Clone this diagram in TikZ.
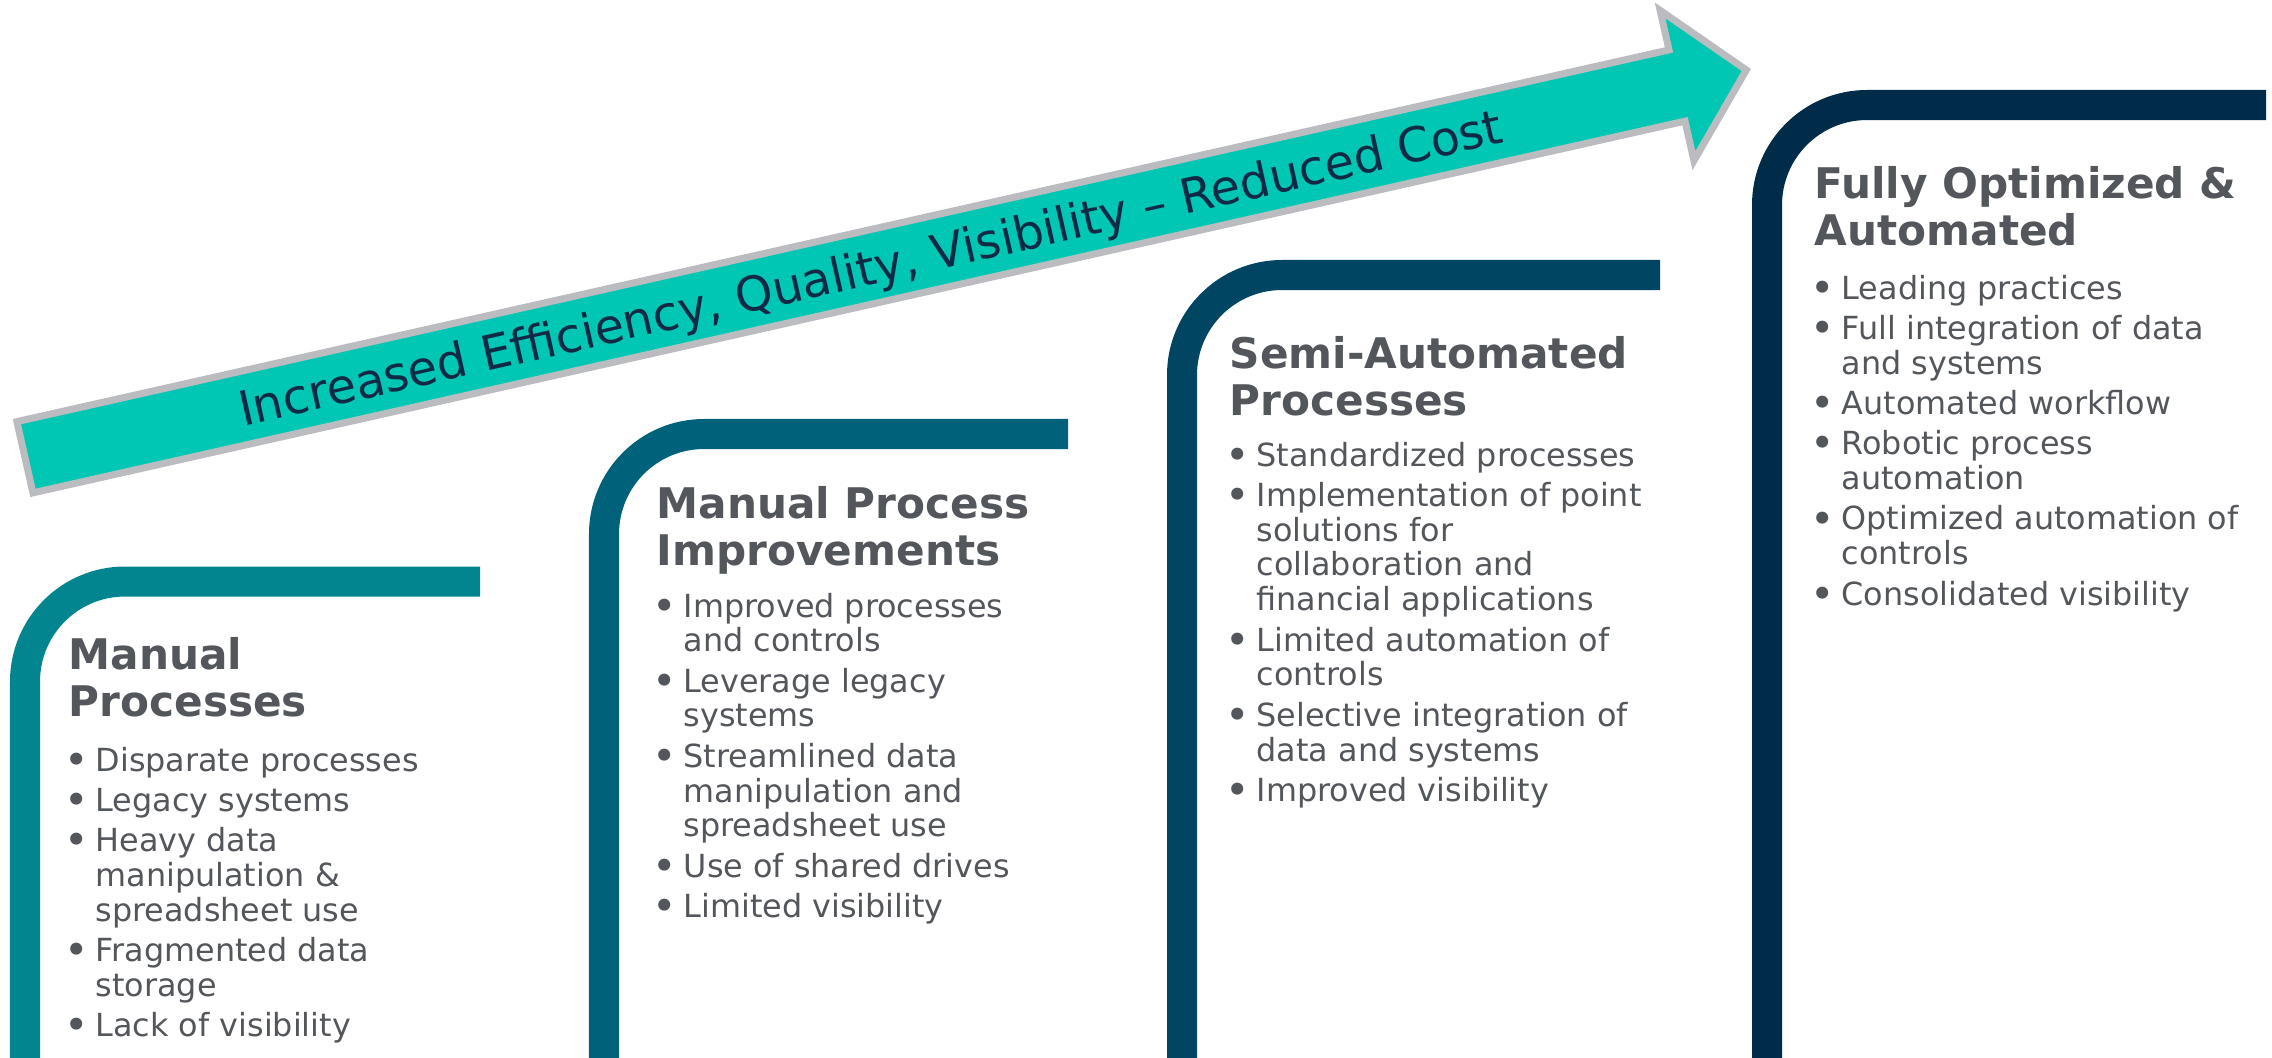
\documentclass[tikz,border=0pt]{standalone}
\usepackage{fontspec}
\setmainfont{DejaVu Sans}
\usepackage{tikz}

\definecolor{stageA}{HTML}{02858F}
\definecolor{stageB}{HTML}{00627A}
\definecolor{stageC}{HTML}{004562}
\definecolor{stageD}{HTML}{002B49}
\definecolor{trendfill}{HTML}{00C7B3}
\definecolor{trendline}{HTML}{BBBCBF}
\definecolor{headgray}{HTML}{53565A}
\definecolor{trendink}{HTML}{0F2A47}

\newcommand{\stagehead}[1]{\begin{minipage}[t]{5.2cm}\raggedright\fontsize{12pt}{13.4pt}\bfseries\selectfont #1\end{minipage}}
\newcommand{\stagelist}[1]{\begin{minipage}[t]{5.2cm}\raggedright\fontsize{9.05pt}{9.9pt}\selectfont\setlength{\parskip}{0.055cm}#1\end{minipage}}
\newcommand{\bitem}[1]{\par\hangindent=0.27cm\hangafter=1\noindent\makebox[0.27cm][l]{\hspace{-0.04cm}\raisebox{-0.9pt}{\scalebox{1.3}{\textbullet}}}#1}

\begin{document}
\begin{tikzpicture}[x=0.01cm, y=-0.01cm]
%% the canvas is in pixel units, y grows downwards
%% frames are thick lines with one rounded corner, cut by the page bottom
\tikzstyle{frame}=[line width=0.3cm, rounded corners=1cm]
\tikzstyle{head}=[anchor=base west, inner sep=0pt, text=headgray]
\tikzstyle{items}=[anchor=base west, inner sep=0pt, text=headgray]
\tikzstyle{trend}=[draw=trendline, fill=trendfill, line width=0.07cm, line join=miter]
\tikzstyle{trendlabel}=[anchor=base, inner sep=0pt, text=trendink, transform shape, font=\fontsize{13.6pt}{16pt}\selectfont]
\useasboundingbox (0,0) rectangle (2272,1057);
%% rising arrow
\begin{scope}[shift={(21.5,458)}, rotate=12.68]
\draw[trend] (3.5,-36.5) -- (1697,-36.5) -- (1697,-77) -- (1768,0) -- (1697,77) -- (1697,36.5) -- (3.5,36.5) -- cycle;
%% label along the arrow
\node[trendlabel] at (870,17.7) (trend) {Increased Efficiency, Quality, Visibility – Reduced Cost};
\end{scope}
%% stage frames
\draw[frame, draw=stageA] (25,1080) -- (25,581.5) -- (480,581.5);
\draw[frame, draw=stageB] (604,1080) -- (604,434) -- (1068,434);
\draw[frame, draw=stageC] (1182,1080) -- (1182,275) -- (1660,275);
\draw[frame, draw=stageD] (1767,1080) -- (1767,105) -- (2266,105);
%% stage 1
\node[head] at (68,669) (headA) {\stagehead{Manual\\Processes}};
\node[items] at (68,771) (listA) {\stagelist{%
\bitem{Disparate processes}%
\bitem{Legacy systems}%
\bitem{Heavy data\newline manipulation \&\newline spreadsheet use}%
\bitem{Fragmented data\newline storage}%
\bitem{Lack of visibility}}};
%% stage 2
\node[head] at (656,518) (headB) {\stagehead{Manual Process\\Improvements}};
\node[items] at (656,617) (listB) {\stagelist{%
\bitem{Improved processes\newline and controls}%
\bitem{Leverage legacy\newline systems}%
\bitem{Streamlined data\newline manipulation and\newline spreadsheet use}%
\bitem{Use of shared drives}%
\bitem{Limited visibility}}};
%% stage 3
\node[head] at (1229,368) (headC) {\stagehead{Semi-Automated\\Processes}};
\node[items] at (1229,466) (listC) {\stagelist{%
\bitem{Standardized processes}%
\bitem{Implementation of point\newline solutions for\newline collaboration and\newline financial applications}%
\bitem{Limited automation of\newline controls}%
\bitem{Selective integration of\newline data and systems}%
\bitem{Improved visibility}}};
%% stage 4
\node[head] at (1814,198) (headD) {\stagehead{Fully Optimized \&\\Automated}};
\node[items] at (1814,299) (listD) {\stagelist{%
\bitem{Leading practices}%
\bitem{Full integration of data\newline and systems}%
\bitem{Automated workflow}%
\bitem{Robotic process\newline automation}%
\bitem{Optimized automation of\newline controls}%
\bitem{Consolidated visibility}}};
\end{tikzpicture}
\end{document}
